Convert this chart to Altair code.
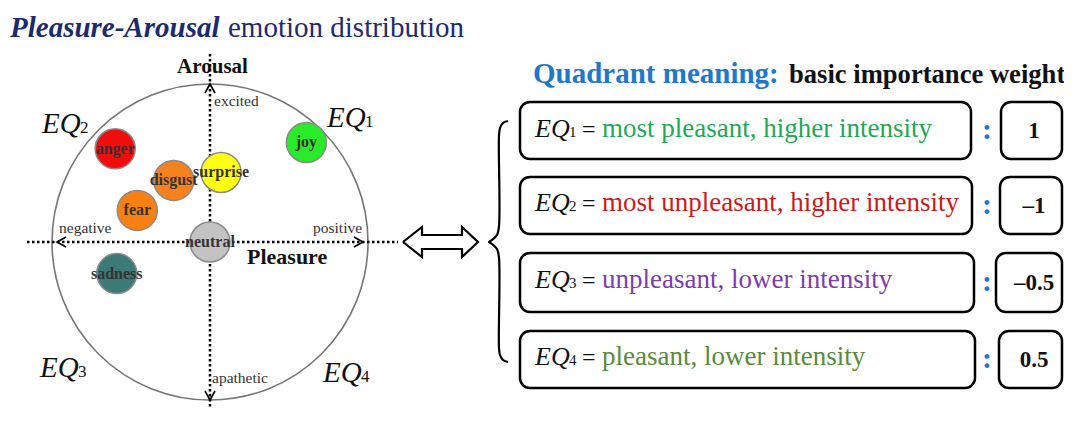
import altair as alt
import pandas as pd

# ---------------- data ----------------
emotions = ["anger", "joy", "disgust", "surprise", "fear", "neutral", "sadness"]
pleasure = [-0.60, 0.61, -0.23, 0.07, -0.46, 0.00, -0.59]
arousal = [0.59, 0.63, 0.39, 0.44, 0.20, 0.00, -0.20]
emotion_colors = ["#f20d0d", "#29eb29", "#f5821f", "#ffff14", "#fa800f", "#c3c3c3", "#3c7a78"]

quadrant_ids = ["1", "2", "3", "4"]
quadrant_meanings = [
    "most pleasant, higher intensity",
    "most unpleasant, higher intensity",
    "unpleasant, lower intensity",
    "pleasant, lower intensity",
]
meaning_colors = ["#1fa855", "#cc1a1a", "#7d3cae", "#5a8a3a"]
weight_labels = ["1", "–1", "–0.5", "0.5"]

# ---------------- layout (pixels of the 1072x423 frame) ----------------
FONT = "Liberation Serif"
CX, CY, R = 210, 242, 158
XS = alt.Scale(domain=[8, 1064], nice=False, zero=False)
YS = alt.Scale(domain=[8, 408], nice=False, zero=False, reverse=True)


def enc(chart, **extra):
    return chart.encode(
        x=alt.X("x:Q", scale=XS, axis=None),
        y=alt.Y("y:Q", scale=YS, axis=None),
        **extra,
    )


def texts(rows, **kw):
    df = pd.DataFrame(rows, columns=["x", "y", "t", "c"])
    base = dict(font=FONT, baseline="alphabetic", align="left")
    base.update(kw)
    return enc(alt.Chart(df).mark_text(**base),
               text="t:N", color=alt.Color("c:N", scale=None))


layers = []

# big circle
layers.append(enc(alt.Chart(pd.DataFrame({"x": [CX], "y": [CY]})).mark_point(
    shape="circle", size=(2 * R) ** 2, filled=False, color="#777777",
    strokeWidth=1.6, opacity=1)))

# dotted axes
layers.append(alt.Chart(pd.DataFrame({"x": [27], "x2": [398], "y": [CY]})).mark_rule(
    color="black", strokeWidth=2.5, strokeDash=[2.5, 2.5]).encode(
    x=alt.X("x:Q", scale=XS, axis=None), x2="x2:Q",
    y=alt.Y("y:Q", scale=YS, axis=None)))
layers.append(alt.Chart(pd.DataFrame({"x": [CX], "y": [54], "y2": [423]})).mark_rule(
    color="black", strokeWidth=2.5, strokeDash=[2.5, 2.5], clip=True).encode(
    x=alt.X("x:Q", scale=XS, axis=None),
    y=alt.Y("y:Q", scale=YS, axis=None), y2="y2:Q"))

# arrow heads on axes
heads = []
tips = [("u", CX, CY - R, 0, 1), ("d", CX, CY + R, 0, -1),
        ("l", CX - R + 5, CY, 1, 0), ("r", CX + R - 5, CY, -1, 0)]
for g, tx, ty, dx, dy in tips:
    if dx == 0:
        pts = [(tx - 5, ty + 9 * dy), (tx, ty), (tx + 5, ty + 9 * dy)]
    else:
        pts = [(tx + 9 * dx, ty - 5), (tx, ty), (tx + 9 * dx, ty + 5)]
    for i, (px, py) in enumerate(pts):
        heads.append({"x": px, "y": py, "g": g, "o": i})
layers.append(enc(alt.Chart(pd.DataFrame(heads)).mark_line(color="black", strokeWidth=1.6),
                  detail="g:N", order="o:Q"))

# emotion bubbles
emo = pd.DataFrame({"name": emotions, "p": pleasure, "a": arousal, "c": emotion_colors})
emo_base = alt.Chart(emo).transform_calculate(
    x=f"{CX} + datum.p * {R}", y=f"{CY} - datum.a * {R}")
layers.append(enc(emo_base.mark_circle(size=1600, opacity=1, stroke="#8a8a8a", strokeWidth=1.5),
                  fill=alt.Fill("c:N", scale=None)))
layers.append(enc(emo_base.mark_text(font=FONT, fontSize=16, baseline="middle", align="center",
                                     fontWeight="bold", color="#333333"),
                  text="name:N"))

# title
layers.append(texts([(10, 37, "Pleasure-Arousal", "#1c2a6e")], fontSize=29,
                    fontWeight="bold", fontStyle="italic"))
layers.append(texts([(228, 37, "emotion distribution", "#1c2a6e")], fontSize=29))

# axis names and ends
layers.append(texts([(212.5, 73, "Arousal", "#111111")], fontSize=21, fontWeight="bold",
                    align="center"))
layers.append(texts([(247, 264, "Pleasure", "#111111")], fontSize=22, fontWeight="bold"))
layers.append(texts([(214, 106, "excited", "#333333"), (59, 233, "negative", "#333333"),
                     (313, 233, "positive", "#333333"), (212, 383, "apathetic", "#333333")],
                    fontSize=15.5))

# quadrant labels in the circle panel
eq_pos = [(327, 127), (42, 133), (40, 377), (323, 382)]
layers.append(texts([(x, y, "EQ", "#111111") for x, y in eq_pos], fontSize=29,
                    fontStyle="italic"))
layers.append(texts([(x + 38, y, q, "#111111") for (x, y), q in zip(eq_pos, quadrant_ids)],
                    fontSize=17))

# double arrow
arrow_pts = [(403, 242), (422, 227), (422, 235), (462, 235), (462, 227), (478, 242),
             (462, 257), (462, 249), (422, 249), (422, 257), (403, 242)]
layers.append(enc(alt.Chart(pd.DataFrame(
    [{"x": x, "y": y, "o": i} for i, (x, y) in enumerate(arrow_pts)])).mark_line(
    color="black", strokeWidth=2.2), order="o:Q"))

# curly brace
brace_pts = [(508, 121), (503, 123), (500, 128), (499, 136), (499, 226), (497, 235),
             (492, 240), (489, 242), (492, 244), (497, 249), (499, 258), (499, 348),
             (500, 355), (503, 360), (508, 362)]
layers.append(enc(alt.Chart(pd.DataFrame(
    [{"x": x, "y": y, "o": i} for i, (x, y) in enumerate(brace_pts)])).mark_line(
    color="black", strokeWidth=2.2, interpolate="catmull-rom"), order="o:Q"))

# right panel heading
layers.append(texts([(533, 83, "Quadrant meaning:", "#1f78c8")], fontSize=29, fontWeight="bold"))
layers.append(texts([(789, 83, "basic importance weight", "#111111")], fontSize=26.6,
                    fontWeight="bold"))

# boxes
tops = [102, 177, 253, 331]
bottoms = [159, 234, 312, 388]
rights = [971, 972, 974, 975]
vlefts = [1001, 1000, 996, 999]
VRIGHT = 1062
boxes = []
for t, b, r, vl in zip(tops, bottoms, rights, vlefts):
    boxes.append({"x": 520, "x2": r, "y": t, "y2": b})
    boxes.append({"x": vl, "x2": VRIGHT, "y": t, "y2": b})
layers.append(alt.Chart(pd.DataFrame(boxes)).mark_rect(
    fill="white", stroke="black", strokeWidth=2.5, cornerRadius=10).encode(
    x=alt.X("x:Q", scale=XS, axis=None), x2="x2:Q",
    y=alt.Y("y:Q", scale=YS, axis=None), y2="y2:Q"))

baselines = [137, 211, 288, 365]
mids = [(t + b) / 2 for t, b in zip(tops, bottoms)]
layers.append(texts([(535, y, "EQ", "#111111") for y in baselines], fontSize=26,
                    fontStyle="italic"))
layers.append(texts([(569, y, q, "#111111") for y, q in zip(baselines, quadrant_ids)],
                    fontSize=15))
layers.append(texts([(582, y, "=", "#111111") for y in baselines], fontSize=24))
layers.append(texts([(602, y, m, c) for y, m, c in zip(baselines, quadrant_meanings,
                                                         meaning_colors)], fontSize=27))
layers.append(texts([(987, m + 8, ":", "#1f78c8") for m in mids], fontSize=30,
                    fontWeight="bold", align="center"))
layers.append(texts([(1034, m + 7.5, w, "#111111")
                     for m, w in zip(mids, weight_labels)],
                    fontSize=23, fontWeight="bold", align="center"))

chart = alt.layer(*layers).properties(
    width=1056, height=400, padding=0,
    autosize=alt.AutoSizeParams(type="none"),
    background="white",
).configure_view(stroke=None)

chart.save("out.html", embed_options={"renderer": "svg", "actions": False})
